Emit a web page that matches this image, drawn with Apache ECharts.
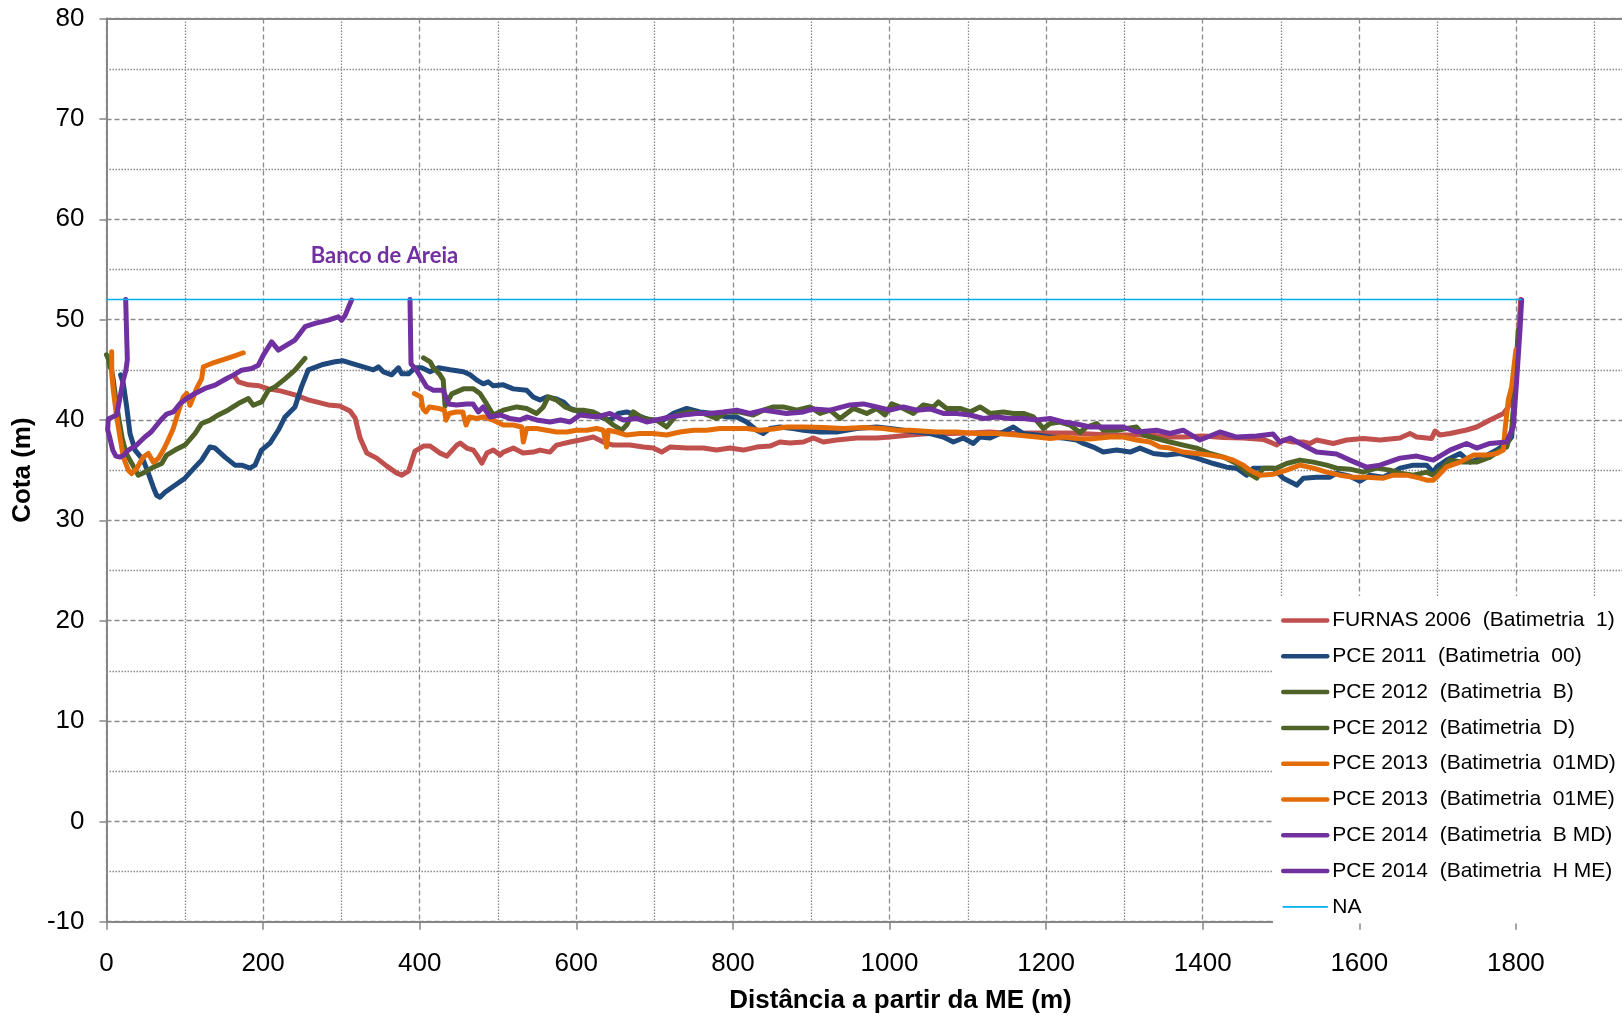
<!DOCTYPE html>
<html>
<head>
<meta charset="utf-8">
<script src="https://cdn.jsdelivr.net/npm/echarts@6/dist/echarts.min.js"></script>
<style>
html,body{margin:0;padding:0;background:#fff;}
#chart{width:1622px;height:1016px;}
</style>
</head>
<body>
<div id="chart"></div>
<script>
// ---- data ----
const xTicks = [0, 200, 400, 600, 800, 1000, 1200, 1400, 1600, 1800];
const yTicks = [-10, 0, 10, 20, 30, 40, 50, 60, 70, 80];

const furnas2006 = [[164,44.3],[168.5,43.8],[181,43.5],[195,43.4],[206.7,43.1],[222,42.9],[240.7,42.5],[257.7,42.0],[283.3,41.5],[298,41.4],[311,40.9],[317.5,40.2],[323.9,38.2],[332.4,36.7],[345,36.2],[358,35.4],[370.8,34.7],[377.2,34.5],[385.7,34.9],[394,36.9],[404.9,37.4],[413.3,37.4],[426,36.7],[434.7,36.4],[447.4,37.5],[451.7,37.7],[460,37.2],[468.5,37.0],[473,36.5],[479.4,35.7],[485.8,36.7],[494,37.0],[503,36.5],[506.8,36.8],[519.5,37.2],[532,36.7],[545,36.8],[553.6,37.0],[566.4,36.8],[574.9,37.5],[591.9,37.8],[604.7,38.0],[621.7,38.3],[634.5,37.8],[647,37.5],[668.5,37.5],[685.6,37.3],[698.3,37.2],[709,36.8],[719.6,37.3],[741,37.2],[762.2,37.2],[779.2,37.0],[796.2,37.2],[813.3,37.0],[830.3,37.3],[847.3,37.4],[860,37.8],[873,37.7],[890,37.8],[902.7,38.2],[915.5,37.8],[932.5,38.0],[958,38.2],[983.6,38.2],[1000.7,38.3],[1026,38.5],[1051.7,38.65],[1077.3,38.65],[1102.8,38.7],[1128.4,38.8],[1153.9,38.65],[1179.4,38.7],[1205,38.7],[1230.5,38.7],[1256,38.6],[1281.6,38.5],[1307,38.5],[1332,38.5],[1358.2,38.3],[1375,38.3],[1400.8,38.4],[1426.3,38.25],[1451.9,38.2],[1477.4,38.06],[1486,37.8],[1494.4,37.5],[1503,38.0],[1515.7,37.8],[1528.5,37.8],[1537,37.66],[1545.5,38.0],[1566.8,37.66],[1583.8,38.0],[1605,38.15],[1626.4,38.0],[1652,38.2],[1664.7,38.65],[1673.2,38.3],[1692.4,38.15],[1696.7,38.9],[1703,38.5],[1715.8,38.65],[1737,39.0],[1749.9,39.3],[1766.9,40.0],[1784,40.65],[1790.3,41.3],[1794.6,42.6],[1798.8,44.6],[1803,48],[1806,52]];

const pce2011 = [[18,44.5],[21.5,43.6],[25.8,41.3],[30,38.65],[36.4,37.0],[47,36.0],[53.4,34.7],[59.8,33.3],[64,32.5],[68.3,32.3],[74.7,32.8],[87.5,33.5],[100.2,34.2],[113,35.3],[121.5,36.0],[132,37.3],[138.6,37.2],[151.3,36.3],[164.1,35.5],[172.6,35.5],[183.3,35.2],[189.6,35.5],[198,37.0],[208.8,37.7],[219.5,39.0],[228,40.3],[240.7,41.3],[249,43.3],[257.7,45.0],[274.8,45.5],[291.8,45.8],[302.5,45.9],[315,45.6],[328,45.3],[340.8,45.0],[347.2,45.3],[353.6,44.8],[364.3,44.5],[372.8,45.2],[377,44.6],[385.7,44.6],[394,45.2],[402.6,45.2],[413.3,44.8],[424,45.2],[438.8,45.0],[455.9,44.8],[464.4,44.5],[473,43.97],[481.2,43.6],[487.6,43.8],[494,43.4],[506.8,43.5],[519.5,43.1],[536.6,42.97],[545,42.3],[553.6,41.98],[562,42.3],[574.9,42.1],[583.4,41.8],[592,41.15],[604.7,40.8],[617.5,40.8],[630.2,40.3],[643,39.98],[653.6,40.65],[664.3,40.8],[677,40.5],[694.1,39.98],[711,39.98],[724,40.65],[740.9,41.15],[758,40.8],[775,40.65],[792,40.3],[804.8,40.3],[817.5,39.8],[830.3,38.98],[838.8,38.65],[847.3,39.15],[860,39.3],[877,39.15],[890,38.98],[911.3,38.8],[932.5,38.8],[958,39.15],[983.6,39.3],[1000.7,39.15],[1017.7,38.98],[1034.7,38.8],[1051.7,38.65],[1068.8,38.3],[1081.5,37.8],[1094.3,38.2],[1107,37.66],[1115.6,38.3],[1128.4,38.2],[1145.4,38.8],[1158.2,39.3],[1171,38.65],[1188,38.5],[1205,38.3],[1222,38.2],[1239,38.0],[1247.5,37.66],[1260.3,37.3],[1273,36.8],[1290.1,37.0],[1307.1,36.8],[1319.9,37.2],[1337,36.66],[1354,36.5],[1371,36.66],[1392.3,36.2],[1413.6,35.66],[1430.6,35.3],[1443.4,35.2],[1456.1,34.5],[1464.6,35.2],[1486,35.2],[1490,35.2],[1503,34.2],[1515.7,33.7],[1520,33.5],[1528.5,34.2],[1545.5,34.3],[1562.5,34.3],[1571,34.7],[1588,34.4],[1600.9,33.9],[1613.6,34.5],[1630.7,34.3],[1647.7,35.0],[1652,35.2],[1669,35.5],[1686,35.5],[1694.5,34.8],[1698.8,35.3],[1711.5,36.0],[1728.6,36.66],[1741.4,35.8],[1758.4,36.3],[1775.4,37.0],[1788.2,37.66],[1794.6,38.3],[1796.7,40.65],[1798.8,43.3],[1801,45.6],[1804,49]];

const pce2012B = [[0,46.5],[2.3,46.1],[4.5,45.3],[6.6,44.97],[8.7,43.97],[12,42],[16,40],[20,38.2],[25,36.7],[32.1,35.7],[40.6,34.5],[49,34.8],[59.8,35.3],[70.5,35.66],[76.8,36.5],[87.5,37.0],[100.2,37.5],[113,38.65],[121.5,39.65],[132.2,39.98],[142.8,40.5],[155.6,41.0],[168.4,41.64],[181.1,42.14],[187.5,41.47],[198,41.8],[206.7,42.97],[215.2,43.3],[228,44.1],[240.7,44.96],[253.5,46.13]];

const pce2012D = [[404.9,46.2],[413.3,45.8],[417.5,45.2],[426,44.5],[430,44.0],[432.4,41.4],[434.5,41.3],[440.9,42.6],[455.9,43.1],[468.6,43.1],[477,42.64],[485.5,41.6],[494,40.5],[506.8,40.98],[523.8,41.3],[536.6,41.15],[549.3,40.65],[557.9,41.3],[564.2,42.3],[574.9,41.98],[585.5,41.3],[596.2,40.98],[609,40.98],[621.7,40.8],[634.5,40.3],[647.3,39.5],[657.9,38.98],[664.3,39.5],[672.8,40.8],[685.6,40.15],[702.6,39.98],[715.4,39.3],[728.1,40.5],[745.2,40.8],[762.2,40.65],[779.2,40.15],[792,40.8],[809,40.8],[826,40.5],[838.8,40.98],[851.6,41.3],[864.4,41.3],[881.5,40.98],[898.5,41.3],[911.3,40.65],[924,40.98],[936.8,40.15],[953.8,41.15],[970.9,40.65],[983.6,41.15],[994.3,40.5],[1002.8,41.6],[1017.7,41.15],[1030.5,40.65],[1043.2,41.5],[1056,41.3],[1062.4,41.8],[1073,41.15],[1090,41.15],[1102.8,40.8],[1115.6,41.3],[1128.4,40.65],[1145.4,40.8],[1158.2,40.65],[1171,40.65],[1183.7,40.3],[1196.5,39.15],[1205,39.65],[1217.8,39.8],[1230.5,39.5],[1243.3,38.75],[1251.8,39.3],[1264.6,39.65],[1273,38.98],[1290.1,38.98],[1302.9,39.15],[1315.6,39.3],[1324.2,38.5],[1341.2,38.15],[1358.2,37.8],[1375.2,37.5],[1392.3,37.2],[1409.3,36.66],[1426.3,36.3],[1443.4,35.66],[1456.1,34.8],[1469,34.2],[1477.4,35.2],[1494.4,35.2],[1507.2,35.66],[1524.2,36.0],[1541.3,35.8],[1558.3,35.5],[1571,35.2],[1588,35.1],[1605,34.8],[1622,35.2],[1639.2,35.0],[1652,34.7],[1669,34.5],[1686,34.8],[1694.5,34.5],[1707.3,35.33],[1715.8,36.0],[1732.8,35.8],[1749.9,35.8],[1766.9,36.3],[1779.7,37.0],[1788.2,37.3],[1794.6,39.0],[1798.8,43.0],[1801,46.3],[1803,49]];

const pce2013MD = [[393.2,42.64],[397.5,42.47],[401.7,42.3],[404,41.14],[408.1,40.8],[412.4,41.3],[425,41.14],[431.5,40.98],[433.6,39.98],[437.9,40.65],[446.4,40.8],[455,40.8],[459.2,39.5],[463.4,40.3],[472.7,40.15],[481.2,40.3],[494,39.98],[506.8,39.5],[519.5,39.5],[530.2,39.3],[532.3,37.8],[536.6,39.15],[549.3,39.15],[562.1,38.98],[574.9,38.8],[587.6,38.8],[600.4,38.98],[613.2,38.98],[626,39.15],[634.5,38.98],[638.7,37.3],[640.9,38.98],[651.5,38.8],[664.3,38.5],[681.3,38.65],[698.3,38.65],[715.4,38.5],[732.4,38.8],[749.4,38.98],[766.4,38.98],[783.5,39.15],[800.5,39.15],[817.5,39.15],[834.5,38.98],[851.6,39.1],[868.6,39.3],[890,39.3],[915.5,39.25],[941,39.15],[966.6,39.25],[992.2,39.15],[1009.2,38.98],[1026.2,38.98],[1060.3,38.8],[1085.8,38.8],[1111.3,38.65],[1136.9,38.65],[1162.4,38.5],[1188,38.3],[1205,38.15],[1222,38.3],[1239,38.15],[1256,38.1],[1281.6,38.3],[1298.6,38.3],[1315.6,38.0],[1332.7,37.8],[1345.4,37.3],[1358.2,37.2],[1375.2,36.8],[1392.3,36.66],[1409.3,36.5],[1426.3,36.3],[1439.1,36.0],[1451.9,35.5],[1460.4,35.0],[1473.1,34.5],[1490.2,34.6],[1507.2,35.0],[1524.2,35.5],[1541.3,35.2],[1558.3,34.8],[1575.3,34.5],[1592.3,34.3],[1609.4,34.3],[1630.7,34.2],[1643.4,34.5],[1660.5,34.5],[1677.5,34.2],[1686,34.0],[1694.5,34.0],[1698.8,34.3],[1711.5,35.33],[1728.6,35.8],[1745.6,36.5],[1762.6,36.5],[1775.4,36.66],[1784,37.0],[1786.1,39.0],[1790.3,42.0],[1794.6,43.3],[1800,47]];

const pce2013ME = [[6.6,46.8],[6.8,44.5],[8.7,42.97],[13,40.3],[17.2,38.3],[21.5,36.3],[27.9,35.0],[32.1,34.66],[38.5,35.16],[47,36.3],[53.4,36.66],[59.8,35.8],[66.2,36.16],[72.6,37.0],[76.8,37.66],[85.3,39.15],[91.7,40.8],[98.1,42.3],[102.4,42.64],[106.6,41.47],[111,42.3],[115.1,43.14],[121.5,44.1],[123.7,45.3],[134.3,45.63],[147.1,45.96],[160,46.3],[174.7,46.7]];

const pce2014BMD = [[387.6,52.0],[388.9,45.6],[396,44.96],[409,43.3],[417.5,42.97],[430,42.97],[436.6,41.6],[447,41.5],[460,41.6],[468,41.6],[474.8,40.8],[481,41.3],[489.7,40.3],[502.5,40.5],[515,40.15],[528,40.0],[536.6,40.3],[549.3,40.0],[566.4,39.8],[580,40.0],[592,39.8],[604.7,40.5],[626,40.3],[643,40.65],[660,40.0],[677,40.15],[689.8,39.8],[702,40.0],[719.6,40.3],[736.6,40.5],[753.7,40.65],[770,40.65],[787.7,40.8],[804.8,40.98],[821.8,40.65],[838.8,40.98],[855.8,40.8],[868.7,40.65],[890,40.8],[902.7,41.1],[924,40.98],[949.6,41.5],[966.6,41.6],[983.6,41.3],[1000.7,40.98],[1017.7,41.3],[1034.7,40.98],[1051.7,41.1],[1068.8,40.65],[1085.8,40.65],[1102.8,40.5],[1119.9,40.15],[1136.9,40.3],[1153.9,40.15],[1171,40.15],[1188,40.0],[1205,40.15],[1222,39.8],[1239,39.6],[1256,39.3],[1273,39.3],[1298.6,39.3],[1315.6,38.8],[1341,38.98],[1358,38.65],[1375,38.98],[1396.5,38.0],[1422,38.8],[1443.4,38.3],[1469,38.4],[1490,38.6],[1498.7,37.8],[1511.5,38.2],[1532.7,37.3],[1545.5,36.8],[1571,36.6],[1588,36.0],[1609,35.3],[1626.4,35.5],[1652,36.2],[1673.2,36.4],[1694.5,36.0],[1715.8,37.0],[1737,37.66],[1749.9,37.2],[1766.9,37.66],[1788,37.8],[1796.7,39.3],[1801,43.97],[1805.2,48.96],[1807.3,51.95]];

const pce2014HME = [[24.5,52.0],[26.6,46.0],[24.9,45.0],[21.5,44.0],[13,40.5],[2.3,40.1],[0.5,40.0],[1.5,39.0],[4,38.3],[8,37],[12,36.4],[17.2,36.3],[22,36.5],[28,37],[38.5,37.5],[49,38.3],[57,38.8],[70.5,40.1],[76.8,40.58],[85.3,40.8],[93.9,41.64],[102.4,42.14],[113,42.64],[125.8,43.14],[138.6,43.47],[153.5,44.13],[162,44.47],[172.6,44.96],[185.4,45.13],[193.9,45.46],[200.3,46.46],[210.9,47.79],[219.5,46.96],[230,47.46],[240.7,47.96],[253.5,49.3],[266.3,49.62],[283.3,49.95],[296,50.28],[300.3,49.94],[304.6,50.4],[313,51.95]];

const naLevel = [[0,52],[1807,52]];

const seriesNames = ['FURNAS 2006 (Batimetria 1)','PCE 2011 (Batimetria 00)','PCE 2012 (Batimetria B)','PCE 2012 (Batimetria D)','PCE 2013 (Batimetria 01MD)','PCE 2013 (Batimetria 01ME)','PCE 2014 (Batimetria B MD)','PCE 2014 (Batimetria H ME)','NA'];
const seriesData = [furnas2006, pce2011, pce2012B, pce2012D, pce2013MD, pce2013ME, pce2014BMD, pce2014HME, naLevel];
const seriesColors = ['#C0504D','#1F497D','#4F6228','#4F6228','#E36C09','#E36C09','#7030A0','#7030A0','#00B0F0'];
const annotationText = 'Banco de Areia';
const annotationCoord = [355, 56.4];

// ---- chart ----
const chart = echarts.init(document.getElementById('chart'), null, {renderer: 'canvas'});
const FONT = '"Liberation Sans", Arial, sans-serif';
const gridGray = '#8a8a8a';
const axisGray = '#868686';
const lineW = name => name === 'NA' ? 1.6 : 5;

const series = seriesNames.map((name, i) => {
  const s = {
    name: name,
    type: 'line',
    data: seriesData[i],
    showSymbol: false,
    symbol: 'none',
    silent: true,
    animation: false,
    color: seriesColors[i],
    lineStyle: {color: seriesColors[i], width: lineW(name), cap: 'round', join: 'round'}
  };
  if (name === 'NA') {
    s.markPoint = {
      symbol: 'circle', symbolSize: 1, silent: true, animation: false,
      itemStyle: {color: 'rgba(0,0,0,0)'},
      label: {show: true, position: 'inside', formatter: annotationText, color: '#7030A0',
              fontFamily: 'Lato, "Open Sans", sans-serif', fontWeight: 'bold', fontSize: 22},
      data: [{coord: annotationCoord}]
    };
  }
  return s;
});

const option = {
  animation: false,
  backgroundColor: '#ffffff',
  grid: {left: 106.5, top: 18.6, right: -50.5, bottom: 94.3, containLabel: false, outerBoundsMode: 'none'},
  legend: {
    data: seriesNames.map((n, i) => ({name: n, lineStyle: {width: n === 'NA' ? 1.6 : 4.5, color: seriesColors[i], cap: 'round'}})),
    orient: 'vertical',
    left: 1273, top: 596,
    padding: [14, 14, 6, 8],
    itemWidth: 44, itemHeight: 14, itemGap: 14.8,
    backgroundColor: '#ffffff',
    selectedMode: false,
    itemStyle: {opacity: 0, borderWidth: 0},
    formatter: n => n.replace(' (', '  (').replace('Batimetria ', 'Batimetria  '),
    textStyle: {fontFamily: FONT, fontSize: 21, color: '#000'}
  },
  xAxis: [{
    type: 'value', min: 0, max: 2000, interval: 200,
    name: 'Distância a partir da ME (m)', nameLocation: 'middle', nameGap: 66,
    nameTextStyle: {fontFamily: FONT, fontSize: 26, fontWeight: 'bold', color: '#000', padding: [0, 0, 0, 22]},
    axisLine: {show: true, onZero: false, lineStyle: {color: axisGray, width: 2}},
    axisTick: {show: true, length: 8, lineStyle: {color: axisGray, width: 1.5}},
    axisLabel: {fontFamily: FONT, fontSize: 26, color: '#000', margin: 29,
                formatter: v => xTicks.indexOf(v) >= 0 ? String(v) : ''},
    splitLine: {show: true, lineStyle: {color: gridGray, width: 1.3, type: [5, 3]}},
    minorTick: {show: false, splitNumber: 2},
    minorSplitLine: {show: true, lineStyle: {color: gridGray, width: 1.3, type: [1.5, 1.5]}}
  }, {
    type: 'value', min: 0, max: 2000, interval: 200, position: 'top',
    axisLine: {show: true, onZero: false, lineStyle: {color: axisGray, width: 2}},
    axisTick: {show: false}, axisLabel: {show: false}, splitLine: {show: false}
  }],
  yAxis: {
    type: 'value', min: -10, max: 80, interval: 10,
    name: 'Cota (m)', nameLocation: 'middle', nameGap: 57, nameRotate: 90,
    nameTextStyle: {fontFamily: FONT, fontSize: 26, fontWeight: 'bold', color: '#000'},
    axisLine: {show: true, onZero: false, lineStyle: {color: axisGray, width: 2}},
    axisTick: {show: true, length: 7, lineStyle: {color: axisGray, width: 1.5}},
    axisLabel: {fontFamily: FONT, fontSize: 26, color: '#000', margin: 22,
                formatter: v => yTicks.indexOf(v) >= 0 ? String(v) : ''},
    splitLine: {show: true, lineStyle: {color: gridGray, width: 1.3, type: [5, 3]}},
    minorTick: {show: false, splitNumber: 2},
    minorSplitLine: {show: true, lineStyle: {color: gridGray, width: 1.3, type: [1.5, 1.5]}}
  },
  series: series
};
chart.setOption(option);
</script>
</body>
</html>
